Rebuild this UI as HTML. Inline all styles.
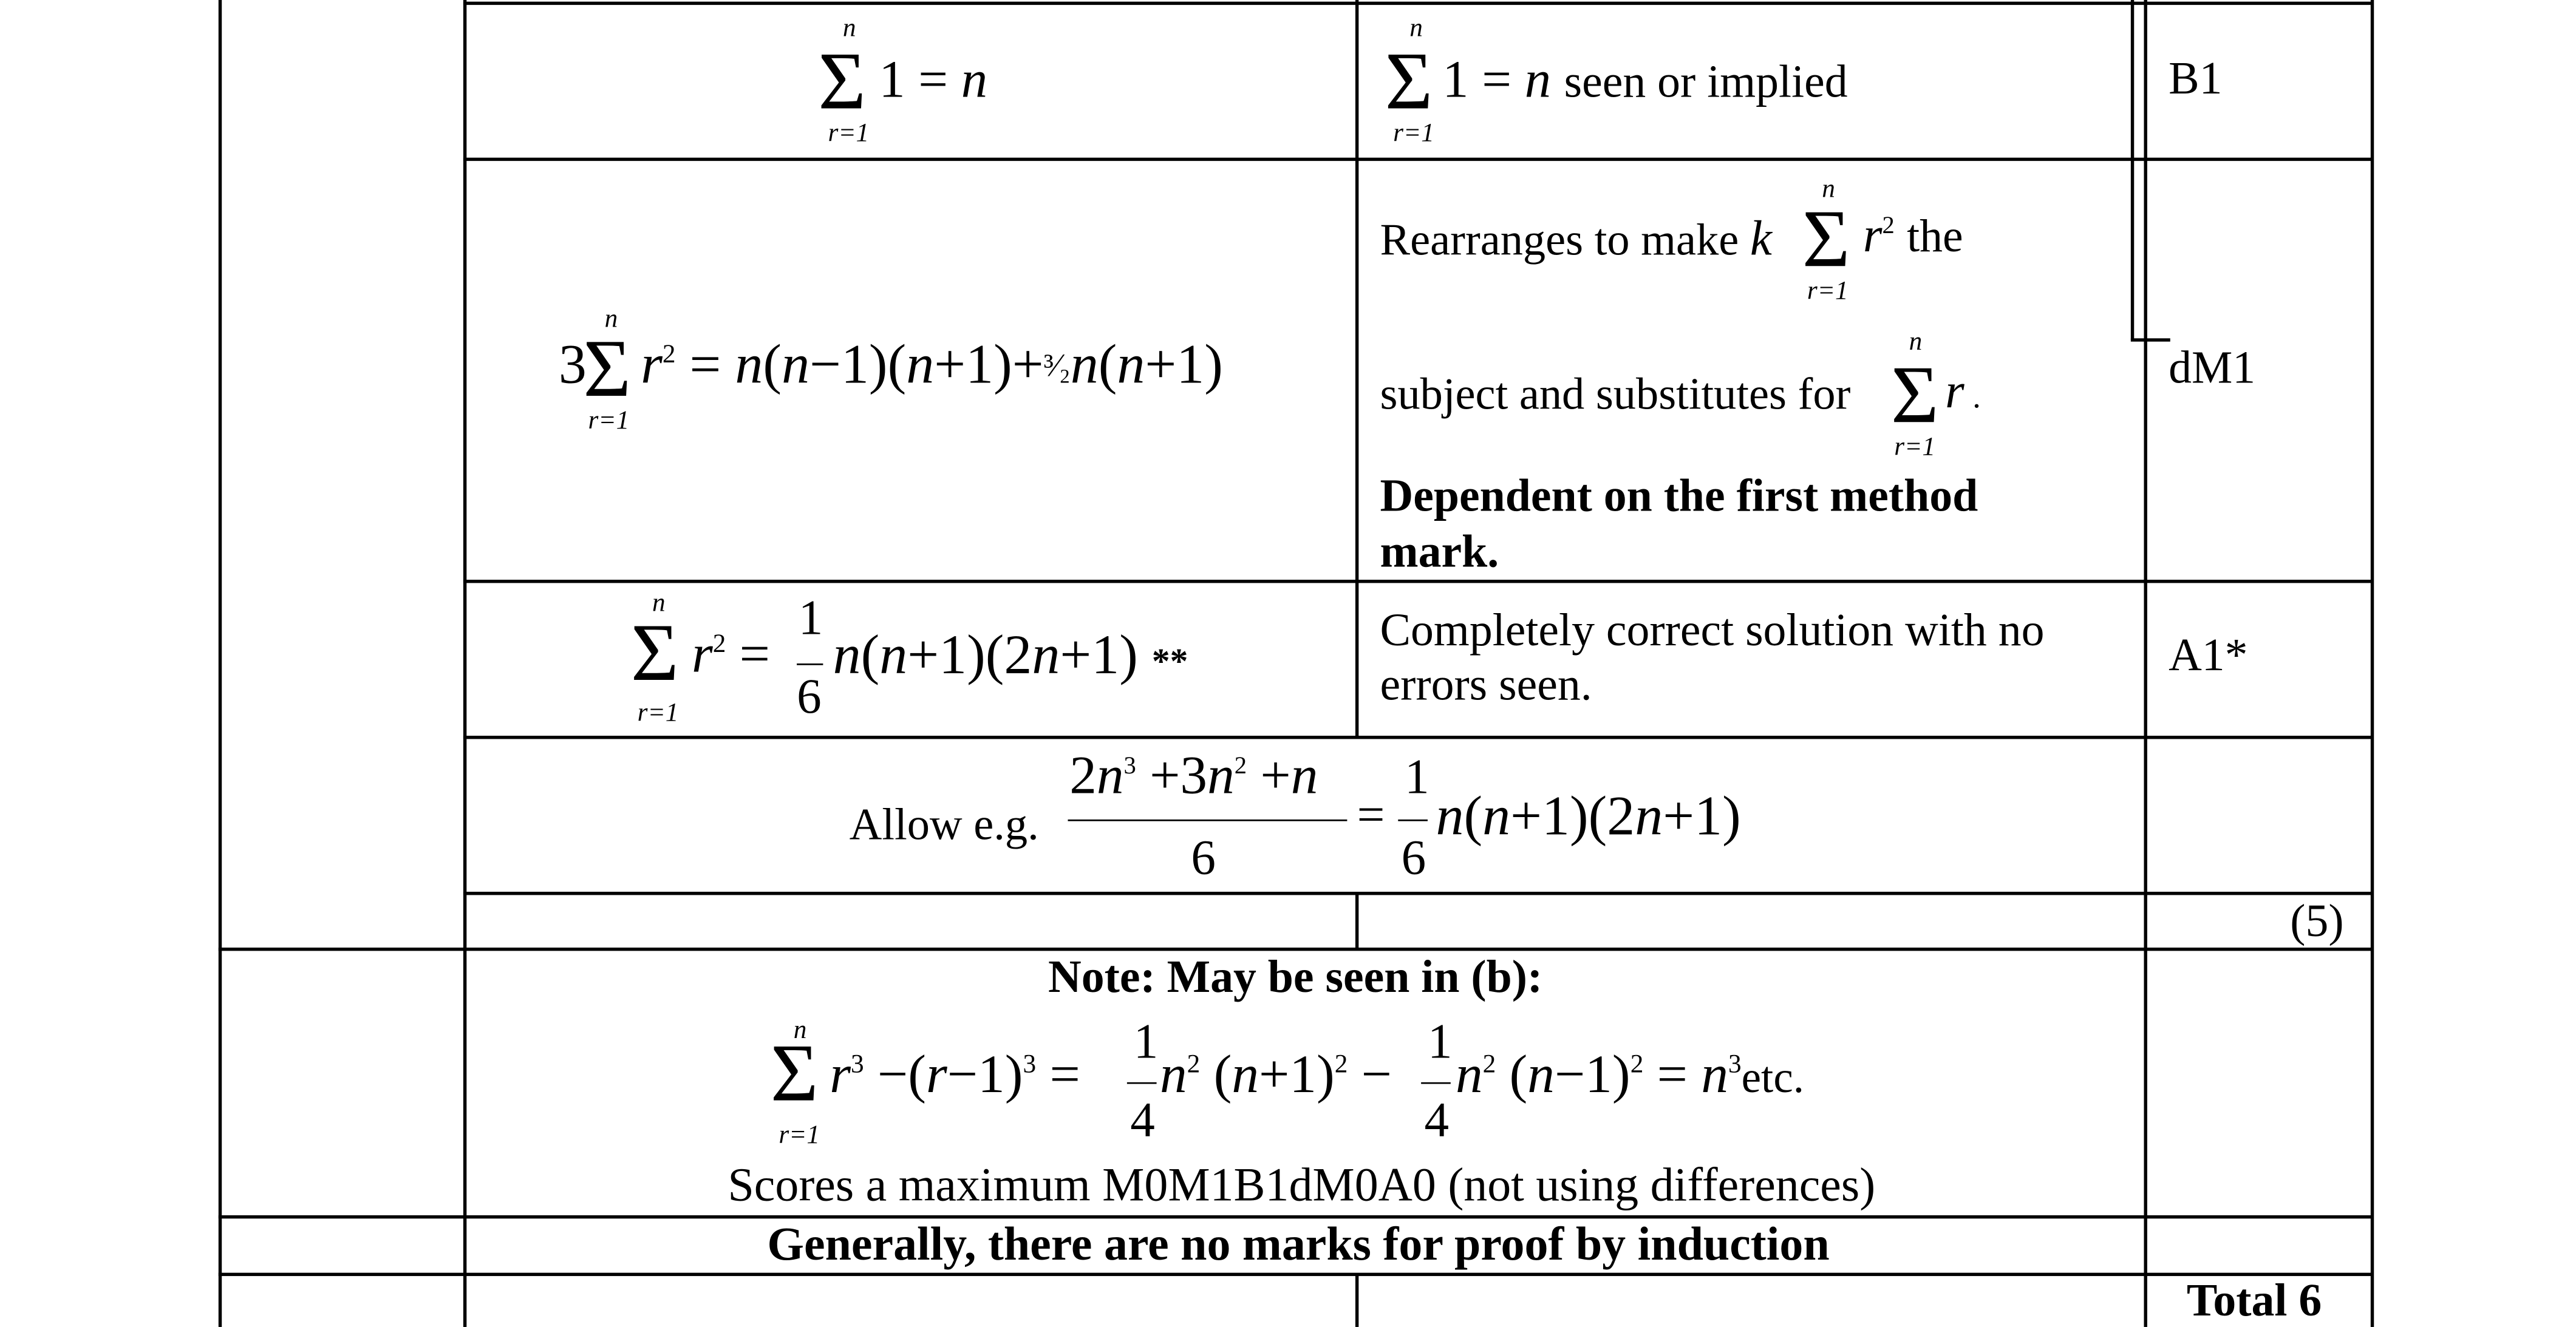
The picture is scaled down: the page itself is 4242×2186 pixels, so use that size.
<!DOCTYPE html>
<html><head><meta charset="utf-8"><style>
html,body{margin:0;padding:0;background:#fff}
#w{position:relative;width:4242px;height:2186px;overflow:hidden}
#c{position:absolute;left:0;top:0;width:1568px;height:808px;transform:scale(2.70536);transform-origin:0 0;font-family:"Liberation Serif",serif;color:#000}
.h,.v{position:absolute;background:#000}
.h{height:1.5px}.v{width:1.5px}
.t{position:absolute;line-height:1;white-space:nowrap}
i{font-style:italic}
.s{font-size:50px}
.sm{font-size:16px;font-style:italic}
sup{line-height:0}
</style></head><body><div id="w"><div id="c">
<div class="v" style="left:133px;top:0;height:808px"></div>
<div class="v" style="left:282px;top:0;height:808px"></div>
<div class="v" style="left:825px;top:0;height:449px"></div>
<div class="v" style="left:825px;top:544px;height:34px"></div>
<div class="v" style="left:825px;top:776px;height:32px"></div>
<div class="v" style="left:1297px;top:0;height:207px"></div>
<div class="h" style="left:1297px;top:206px;width:24px"></div>
<div class="v" style="left:1305px;top:0;height:808px"></div>
<div class="v" style="left:1443px;top:0;height:808px"></div>
<div class="h" style="left:282px;top:1px;width:1162px"></div>
<div class="h" style="left:282px;top:96px;width:1162px"></div>
<div class="h" style="left:282px;top:353px;width:1162px"></div>
<div class="h" style="left:282px;top:448px;width:1162px"></div>
<div class="h" style="left:282px;top:543px;width:1162px"></div>
<div class="h" style="left:133px;top:577px;width:1311px"></div>
<div class="h" style="left:133px;top:740px;width:1311px"></div>
<div class="h" style="left:133px;top:775px;width:1311px"></div>

<!-- Row 1 -->
<div class="t s" style="left:498px;top:24px">Σ</div>
<div class="t sm" style="left:513px;top:10px">n</div>
<div class="t sm" style="left:504px;top:74px">r=1</div>
<div class="t" style="left:535px;top:32px;font-size:32px">1 = <i>n</i></div>
<div class="t s" style="left:843px;top:24px">Σ</div>
<div class="t sm" style="left:858px;top:10px">n</div>
<div class="t sm" style="left:848px;top:74px">r=1</div>
<div class="t" style="left:878px;top:32px;font-size:32px">1 = <i>n</i> <span style="font-size:28px">seen or implied</span></div>
<div class="t" style="left:1320px;top:35px;font-size:28px">B1</div>

<!-- Row 2 -->
<div class="t" style="left:340px;top:206px;font-size:34px">3</div>
<div class="t s" style="left:355px;top:199px">Σ</div>
<div class="t sm" style="left:368px;top:187px">n</div>
<div class="t sm" style="left:358px;top:249px">r=1</div>
<div class="t" style="left:390px;top:206px;font-size:34px"><i>r</i><sup style="font-size:16px">2</sup> = <i>n</i>(<i>n</i>−1)(<i>n</i>+1)+<span style="font-size:20px;vertical-align:4px">³⁄₂</span><i>n</i>(<i>n</i>+1)</div>
<div class="t" style="left:840px;top:131px;font-size:27.5px">Rearranges to make <i style="font-size:30px">k</i></div>
<div class="t s" style="left:1097px;top:120px">Σ</div>
<div class="t sm" style="left:1109px;top:108px">n</div>
<div class="t sm" style="left:1100px;top:170px">r=1</div>
<div class="t" style="left:1134px;top:129px;font-size:30px"><i>r</i><sup style="font-size:15px">2</sup> <span style="font-size:28px">the</span></div>
<div class="t" style="left:840px;top:226px;font-size:27.5px">subject and substitutes for</div>
<div class="t s" style="left:1151px;top:215px">Σ</div>
<div class="t sm" style="left:1162px;top:201px">n</div>
<div class="t sm" style="left:1153px;top:265px">r=1</div>
<div class="t" style="left:1184px;top:224px;font-size:30px"><i>r</i><span style="font-size:20px"> .</span></div>
<div class="t" style="left:840px;top:289px;font-size:28px;font-weight:bold">Dependent on the first method</div>
<div class="t" style="left:840px;top:323px;font-size:28px;font-weight:bold">mark.</div>
<div class="t" style="left:1320px;top:211px;font-size:28px">dM1</div>

<!-- Row 3 -->
<div class="t s" style="left:384px;top:372px">Σ</div>
<div class="t sm" style="left:397px;top:360px">n</div>
<div class="t sm" style="left:388px;top:427px">r=1</div>
<div class="t" style="left:421px;top:383px;font-size:33px"><i>r</i><sup style="font-size:16px">2</sup> =</div>
<div class="t" style="left:486px;top:362px;font-size:30px">1</div>
<div class="h" style="left:485px;top:404px;width:16px;height:1px"></div>
<div class="t" style="left:485px;top:410px;font-size:30px">6</div>
<div class="t" style="left:507px;top:383px;font-size:34px"><i>n</i>(<i>n</i>+1)(2<i>n</i>+1) <span style="font-size:22px;font-weight:bold">**</span></div>
<div class="t" style="left:840px;top:371px;font-size:28px">Completely correct solution with no</div>
<div class="t" style="left:840px;top:404px;font-size:28px">errors seen.</div>
<div class="t" style="left:1320px;top:386px;font-size:28px">A1*</div>

<!-- Row 4 -->
<div class="t" style="left:517px;top:488px;font-size:27.5px">Allow e.g.</div>
<div class="t" style="left:651px;top:457px;font-size:33px">2<i>n</i><sup style="font-size:15px">3</sup> +3<i>n</i><sup style="font-size:15px">2</sup> +<i>n</i></div>
<div class="h" style="left:650px;top:499px;width:170px;height:1px"></div>
<div class="t" style="left:725px;top:508px;font-size:30px">6</div>
<div class="t" style="left:826px;top:482px;font-size:30px">=</div>
<div class="t" style="left:855px;top:459px;font-size:30px">1</div>
<div class="h" style="left:851px;top:499px;width:18px;height:1px"></div>
<div class="t" style="left:853px;top:508px;font-size:30px">6</div>
<div class="t" style="left:874px;top:481px;font-size:34px"><i>n</i>(<i>n</i>+1)(2<i>n</i>+1)</div>

<!-- Row 5 -->
<div class="t" style="left:1394px;top:548px;font-size:28px">(5)</div>

<!-- Note -->
<div class="t" style="left:638px;top:582px;font-size:28px;font-weight:bold">Note: May be seen in (b):</div>
<div class="t s" style="left:469px;top:628px">Σ</div>
<div class="t sm" style="left:483px;top:620px">n</div>
<div class="t sm" style="left:474px;top:684px">r=1</div>
<div class="t" style="left:505px;top:639px;font-size:33px"><i>r</i><sup style="font-size:16px">3</sup> −(<i>r</i>−1)<sup style="font-size:16px">3</sup> =</div>
<div class="t" style="left:690px;top:620px;font-size:30px">1</div>
<div class="h" style="left:686px;top:659px;width:18px;height:1px"></div>
<div class="t" style="left:688px;top:668px;font-size:30px">4</div>
<div class="t" style="left:706px;top:639px;font-size:33px"><i>n</i><sup style="font-size:16px">2</sup> (<i>n</i>+1)<sup style="font-size:16px">2</sup> −</div>
<div class="t" style="left:869px;top:620px;font-size:30px">1</div>
<div class="h" style="left:865px;top:659px;width:18px;height:1px"></div>
<div class="t" style="left:867px;top:668px;font-size:30px">4</div>
<div class="t" style="left:886px;top:639px;font-size:33px"><i>n</i><sup style="font-size:16px">2</sup> (<i>n</i>−1)<sup style="font-size:16px">2</sup> = <i>n</i><sup style="font-size:16px">3</sup><span style="font-size:27px">etc.</span></div>
<div class="t" style="left:443px;top:708px;font-size:28.8px">Scores a maximum M0M1B1dM0A0 (not using differences)</div>
<div class="t" style="left:467px;top:744px;font-size:28.8px;font-weight:bold">Generally, there are no marks for proof by induction</div>
<div class="t" style="left:1331px;top:779px;font-size:28px;font-weight:bold">Total 6</div>
</div></div></body></html>
